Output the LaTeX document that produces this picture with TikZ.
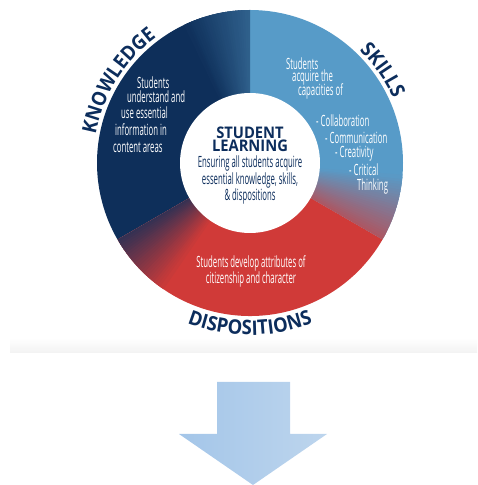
\documentclass[tikz,border=0pt]{standalone}
\usepackage{fontspec}
\setmainfont{Open Sans}
\newfontfamily\bodyfont[FakeStretch=0.5]{Open Sans}
\newfontfamily\headfont[FakeStretch=0.92]{Open Sans}
\newcommand\labelfont{\headfont\bfseries\fontsize{20}{20}\selectfont}
\usetikzlibrary{decorations.text}

\definecolor{knowcol}{HTML}{0E2F5A}
\definecolor{skillcol}{HTML}{579BC8}
\definecolor{dispcol}{HTML}{D03A38}
\definecolor{labcol}{HTML}{0C2D5C}
\definecolor{arrowl}{HTML}{A4C6E9}
\definecolor{arrowr}{HTML}{BDD5ED}

\tikzset{
  bodytext/.style={font=\bodyfont\fontsize{15.5}{16}\selectfont, text=white, inner sep=0pt},
  centertext/.style={font=\bodyfont\fontsize{15.5}{12.5}\selectfont, text=labcol, inner sep=0pt, align=center},
  titletext/.style={font=\headfont\bfseries\fontsize{16}{13}\selectfont, text=labcol, inner sep=0pt, align=center},
  ringlabel/.style={decorate, decoration={text along path, text align=center, text color=labcol}}
}

\begin{document}
\begin{tikzpicture}[x=1pt,y=1pt]
        \useasboundingbox (0,0) rectangle (477,485);
        \coordinate (c) at (250,322);

        % Settori dell'anello
        \fill[knowcol] (c) -- ++(90:153) arc[start angle=90, end angle=210, radius=153] -- cycle;
        \fill[skillcol] (c) -- ++(90:153) arc[start angle=90, end angle=-30, radius=153] -- cycle;
        \fill[dispcol] (c) -- ++(210:153) arc[start angle=210, end angle=330, radius=153] -- cycle;

        % Sfumature ai bordi dei settori
        \foreach \a in {0,...,24} {
          \pgfmathtruncatemacro\p{55+1.8*\a}
          \fill[knowcol!\p!skillcol] (c) -- ++({90+\a}:153) arc[start angle={90+\a}, end angle={91.6+\a}, radius=153] -- cycle;
          \pgfmathtruncatemacro\q{20+3.2*\a}
          \fill[dispcol!\q!knowcol] (c) -- ++({210+\a}:153) arc[start angle={210+\a}, end angle={211.6+\a}, radius=153] -- cycle;
          \pgfmathtruncatemacro\r{70-2.8*\a}
          \fill[dispcol!\r!skillcol] (c) -- ++({330+\a}:153) arc[start angle={330+\a}, end angle={331.6+\a}, radius=153] -- cycle;
        }

        % Cerchio centrale
        \fill[white] (c) circle[radius=70];
        \node[titletext] (title) at (250,346) {STUDENT\\LEARNING};
        \node[centertext] (goal) at (250,305) {Ensuring all students acquire\\essential knowledge, skills,\\\& dispositions};

        % Testi dei settori
        \foreach \x/\y/\t [count=\i] in {137/402/Students, 127/388/understand and, 121/372/use essential,
            115/355/information in, 113/338/content areas}
          \node[bodytext, anchor=west] (know\i) at (\x,\y) {\t};
        \foreach \x/\y/\t [count=\i] in {286/421/Students, 292/408/acquire the, 298/394/capacities of,
            316/364/- Collaboration, 325/347/- Communication, 335/331/- Creativity, 349/315/- Critical, 357/299/Thinking}
          \node[bodytext, anchor=west] (skill\i) at (\x,\y) {\t};
        \node[bodytext, align=center] (disp) at (251,214) {Students develop attributes of\\citizenship and character};

        % Etichette curve
        \path[shift={(c)}, ringlabel, decoration={text={|\labelfont|KNOWLEDGE}}]
          (178:157) arc[start angle=178, end angle=118, radius=157];
        \path[shift={(c)}, ringlabel, decoration={text={|\labelfont|SKILLS}}]
          (65:157) arc[start angle=65, end angle=5, radius=157];
        \path[shift={(c)}, ringlabel, decoration={text={|\labelfont|DISPOSITIONS}}]
          (220:172) arc[start angle=220, end angle=320, radius=172];

        % Fascia grigia
        \fill[top color=white, bottom color=black!5] (10,132) rectangle (477,147);

        % Freccia verso il basso
        \shade[left color=arrowl, right color=arrowr]
          (217,103) -- (290,103) -- (290,51) -- (327,51) -- (253,0) -- (179,51) -- (217,51) -- cycle;
\end{tikzpicture}
\end{document}
